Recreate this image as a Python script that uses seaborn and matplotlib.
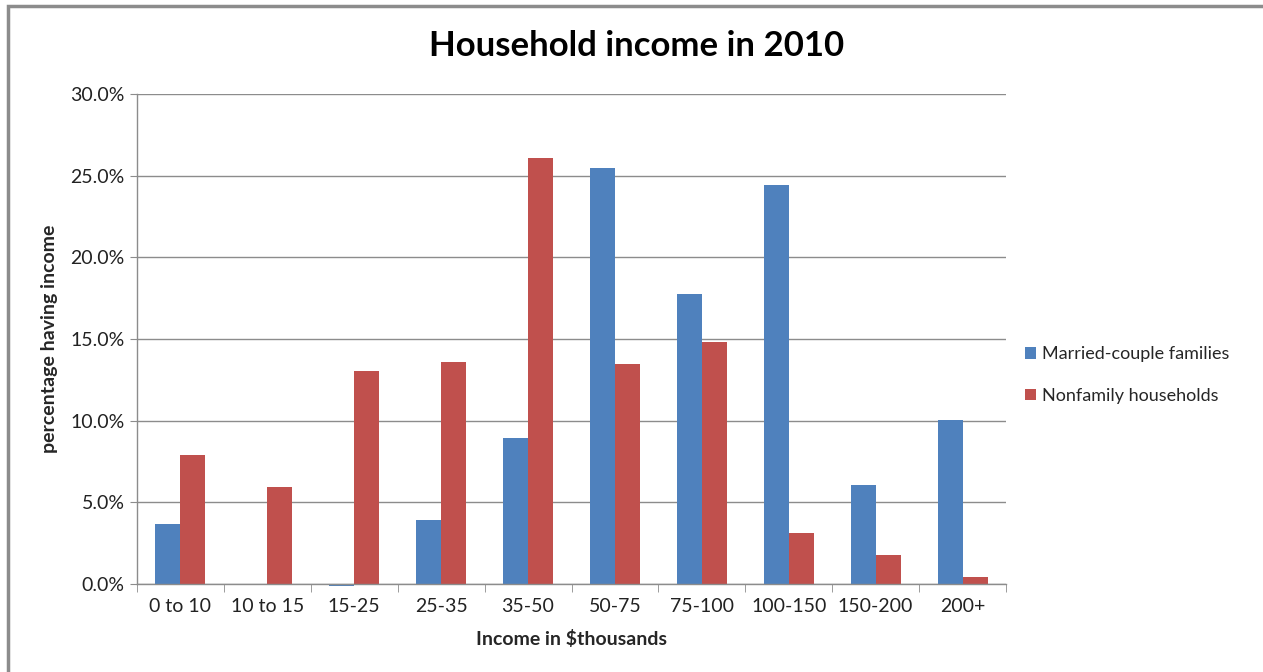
import matplotlib
matplotlib.use("Agg")
import matplotlib.pyplot as plt
import seaborn as sns
import pandas as pd
import numpy as np
from matplotlib.ticker import PercentFormatter, FixedLocator
from matplotlib.patches import Rectangle, Patch

categories = ["0 to 10", "10 to 15", "15-25", "25-35", "35-50", "50-75",
              "75-100", "100-150", "150-200", "200+"]
married = [3.67, 0.0, -0.12, 3.92, 8.94, 25.47, 17.76, 24.43, 6.06, 10.04]
nonfamily = [7.9, 5.94, 13.04, 13.6, 26.09, 13.47, 14.82, 3.12, 1.78, 0.43]
series_names = ["Married-couple families", "Nonfamily households"]
colors = ["#4F81BD", "#C0504D"]

df = pd.DataFrame({
    "Income": categories * 2,
    "value": married + nonfamily,
    "series": [series_names[0]] * len(categories) + [series_names[1]] * len(categories),
})

sns.set_style("white")
plt.rcParams["font.family"] = ["Lato", "DejaVu Sans"]

fig = plt.figure(figsize=(12.63, 6.72), dpi=100)
ax = fig.add_axes([137 / 1263, 1 - 584 / 672, (1006 - 137) / 1263, (584 - 94) / 672])

sns.barplot(data=df, x="Income", y="value", hue="series", order=categories,
            hue_order=series_names, palette=colors, width=0.575, saturation=1,
            ax=ax, legend=False, linewidth=0)
for p in ax.patches:
    p.set_clip_on(False)

ax.set_ylim(0, 30)
ax.set_xlim(-0.5, len(categories) - 0.5)
ax.yaxis.set_major_locator(FixedLocator([0, 5, 10, 15, 20, 25, 30]))
ax.yaxis.set_major_formatter(PercentFormatter(decimals=1))
ax.grid(axis="y", color="#8C8C8C", linewidth=1)
ax.set_axisbelow(True)

for s in ["top", "right"]:
    ax.spines[s].set_visible(False)
for s in ["left", "bottom"]:
    ax.spines[s].set_color("#8C8C8C")
    ax.spines[s].set_linewidth(1)

ax.tick_params(axis="y", which="major", length=5, color="#8C8C8C", labelsize=14,
               labelcolor="#222222", pad=4, left=True)
ax.tick_params(axis="x", which="major", length=0, labelsize=14, labelcolor="#222222", pad=10)
ax.set_xticks(np.arange(-0.5, len(categories), 1.0), minor=True)
ax.tick_params(axis="x", which="minor", length=6, color="#8C8C8C", bottom=True)

ax.set_xlabel("Income in $thousands", fontsize=14, fontweight="bold", labelpad=11)
ax.set_ylabel("percentage having income", fontsize=14, fontweight="bold", labelpad=9)

fig.text(637 / 1263, 1 - 46 / 672, "Household income in 2010", ha="center", va="center",
         fontsize=25, fontweight="bold", color="black")

handles = [Patch(facecolor=c, edgecolor="none") for c in colors]
fig.legend(handles, series_names, loc="center left",
           bbox_to_anchor=(1009 / 1263, 1 - 375 / 672), frameon=False,
           fontsize=13, handlelength=0.6, handleheight=0.6, handletextpad=0.35,
           labelspacing=1.4)

fig.patches.append(Rectangle((7.5 / 1263, -0.1), 1.2, 1 - 5.5 / 672 + 0.1,
                             transform=fig.transFigure, fill=False,
                             edgecolor="#8C8C8C", linewidth=2.5, zorder=0))

fig.savefig("out.png", dpi=100)
